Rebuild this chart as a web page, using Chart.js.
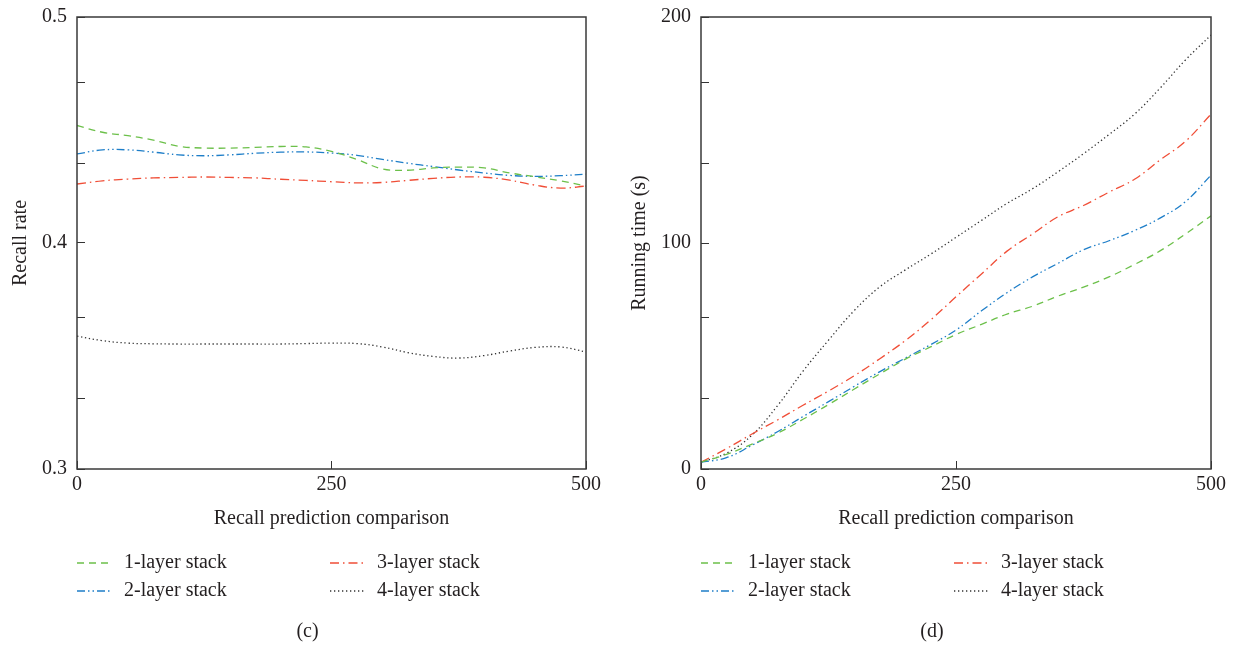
<!DOCTYPE html>
<html>
<head>
<meta charset="utf-8">
<script src="https://cdn.jsdelivr.net/npm/chart.js@4.4.0/dist/chart.umd.min.js"></script>
<style>
  html, body { margin: 0; padding: 0; background: #fff; }
  #wrap { position: relative; width: 1236px; height: 646px; }
  canvas { position: absolute; top: 0; }
  #chart-c { left: 0; }
  #chart-d { left: 618px; }
</style>
</head>
<body>
<div id="wrap">
  <canvas id="chart-c" width="618" height="646"></canvas>
  <canvas id="chart-d" width="618" height="646"></canvas>
</div>
<script>
// shared x positions (recall prediction comparison)
let xValues = [0, 25, 50, 75, 100, 125, 150, 175, 200, 225, 250, 275, 300, 325, 350, 375, 400, 425, 450, 475, 500];
let seriesLabels = ['1-layer stack', '2-layer stack', '3-layer stack', '4-layer stack'];
let seriesColors = ['#6cc04a', '#1e7ec8', '#f04e37', '#333333'];
let seriesDash = [[7, 5], [8, 3, 1.5, 3, 1.5, 3], [9, 4, 1.5, 4], [1.3, 2.7]];

// (c) recall rate
let recall1 = [0.452, 0.449, 0.4475, 0.4455, 0.4428, 0.442, 0.442, 0.4423, 0.4427, 0.4425, 0.4405, 0.437, 0.4328, 0.4322, 0.4332, 0.4336, 0.4332, 0.431, 0.4293, 0.4275, 0.4252];
let recall2 = [0.4394, 0.4412, 0.4412, 0.4402, 0.439, 0.4386, 0.439, 0.4397, 0.4402, 0.4403, 0.4398, 0.4388, 0.437, 0.4353, 0.4338, 0.4323, 0.431, 0.4299, 0.4295, 0.4298, 0.4305];
let recall3 = [0.4261, 0.4275, 0.4283, 0.4288, 0.429, 0.4292, 0.429, 0.4288, 0.4282, 0.4277, 0.4271, 0.4266, 0.4268, 0.4277, 0.4286, 0.4292, 0.4291, 0.4278, 0.4256, 0.4243, 0.4252];
let recall4 = [0.3588, 0.3568, 0.3557, 0.3554, 0.3553, 0.3553, 0.3553, 0.3553, 0.3553, 0.3555, 0.3557, 0.3555, 0.354, 0.3515, 0.3498, 0.3491, 0.3502, 0.3522, 0.3538, 0.354, 0.3518];
let recallTicks = [0.3, 0.331, 0.367, 0.4, 0.435, 0.471, 0.5];
let recallLabelled = [0.3, 0.4, 0.5];

// (d) running time
let time1 = [3, 6.5, 11, 15.8, 22, 28.5, 35.3, 42, 48.5, 54, 59.5, 64, 68.5, 72, 76.5, 80.5, 85, 90.5, 96.5, 104, 112];
let time2 = [3, 5, 10.5, 16.5, 23.2, 29.8, 36.5, 43, 49, 55, 61.5, 70, 78, 85, 91, 97, 101, 105.5, 111, 118.3, 130];
let time3 = [3, 9, 15.5, 21.7, 28.2, 34.5, 41.2, 48.7, 56.7, 65.9, 76.2, 86.3, 96.4, 104, 111.6, 116.6, 122.5, 128.2, 136.7, 145, 157];
let time4 = [3, 7, 15, 28, 43.3, 57, 70, 80.5, 88, 95, 102.5, 110, 117.5, 124, 131.5, 139.5, 148, 157, 168.5, 181, 192];
let timeTicks = [0, 31, 67, 100, 135, 171, 200];
let timeLabelled = [0, 100, 200];

const FONT = '"Liberation Serif", "Times New Roman", serif';
const TEXT = '#231f20';
Chart.defaults.font.family = FONT;
Chart.defaults.color = TEXT;

// frame box, 2x2 legend and sub-caption under the plot
const framePlugin = {
  id: 'frame',
  afterDraw(chart, args, opts) {
    const { ctx, chartArea: a } = chart;
    ctx.save();
    ctx.strokeStyle = '#3a3a3a';
    ctx.lineWidth = 1.5;
    ctx.strokeRect(a.left, a.top, a.right - a.left, a.bottom - a.top);

    ctx.font = '20px ' + FONT;
    ctx.textBaseline = 'middle';
    ctx.fillStyle = TEXT;
    chart.data.datasets.forEach((ds, i) => {
      const x = a.left + (i < 2 ? 0 : 253);
      const y = 563 + (i % 2) * 28;
      ctx.strokeStyle = ds.borderColor;
      ctx.lineWidth = 1.3;
      ctx.setLineDash(ds.borderDash);
      ctx.beginPath();
      ctx.moveTo(x, y);
      ctx.lineTo(x + 34, y);
      ctx.stroke();
      ctx.setLineDash([]);
      ctx.textAlign = 'left';
      ctx.fillText(ds.label, x + 47, y);
    });
    ctx.textAlign = 'center';
    ctx.fillText(opts.caption, (a.left + a.right) / 2 - 24, 632);
    ctx.restore();
  }
};

function makeChart(id, series, yMin, yMax, yTicks, yLabelled, yTitle, yAxisWidth, rightPad, titlePad, caption) {
  const datasets = series.map((data, i) => ({
    label: seriesLabels[i],
    data: data,
    borderColor: seriesColors[i],
    borderDash: seriesDash[i],
    borderWidth: 1.3,
    pointRadius: 0,
    tension: 0.4,
    fill: false
  }));
  return new Chart(document.getElementById(id), {
    type: 'line',
    data: { labels: xValues, datasets: datasets },
    options: {
      responsive: false,
      animation: false,
      devicePixelRatio: 1,
      layout: { padding: { top: 17, right: rightPad, bottom: 115, left: 0 } },
      plugins: {
        legend: { display: false },
        tooltip: { enabled: false },
        frame: { caption: caption }
      },
      scales: {
        x: {
          type: 'linear',
          min: 0, max: 500,
          afterFit: s => { s.height = 62; s.paddingLeft = 0; s.paddingRight = 0; },
          grid: { drawOnChartArea: false, tickLength: -8, color: '#333' },
          border: { display: false },
          ticks: { stepSize: 250, padding: 12, maxRotation: 0, font: { size: 20 } },
          title: { display: true, text: 'Recall prediction comparison', font: { size: 20 }, padding: { top: 0, bottom: 0 } }
        },
        y: {
          min: yMin, max: yMax,
          afterFit: s => { s.width = yAxisWidth; s.paddingTop = 0; s.paddingBottom = 0; },
          afterBuildTicks: s => { s.ticks = yTicks.map(v => ({ value: v })); },
          grid: { drawOnChartArea: false, tickLength: -8, color: '#333' },
          border: { display: false },
          ticks: {
            padding: 18,
            font: { size: 20 },
            callback: v => yLabelled.includes(v) ? String(v) : ''
          },
          title: { display: true, text: yTitle, font: { size: 20 }, padding: { top: titlePad, bottom: 0 } }
        }
      }
    },
    plugins: [framePlugin]
  });
}

makeChart('chart-c', [recall1, recall2, recall3, recall4], 0.3, 0.5, recallTicks, recallLabelled, 'Recall rate', 77, 32, 9, '(c)');
makeChart('chart-d', [time1, time2, time3, time4], 0, 200, timeTicks, timeLabelled, 'Running time (s)', 83, 25, 10, '(d)');
</script>
</body>
</html>
